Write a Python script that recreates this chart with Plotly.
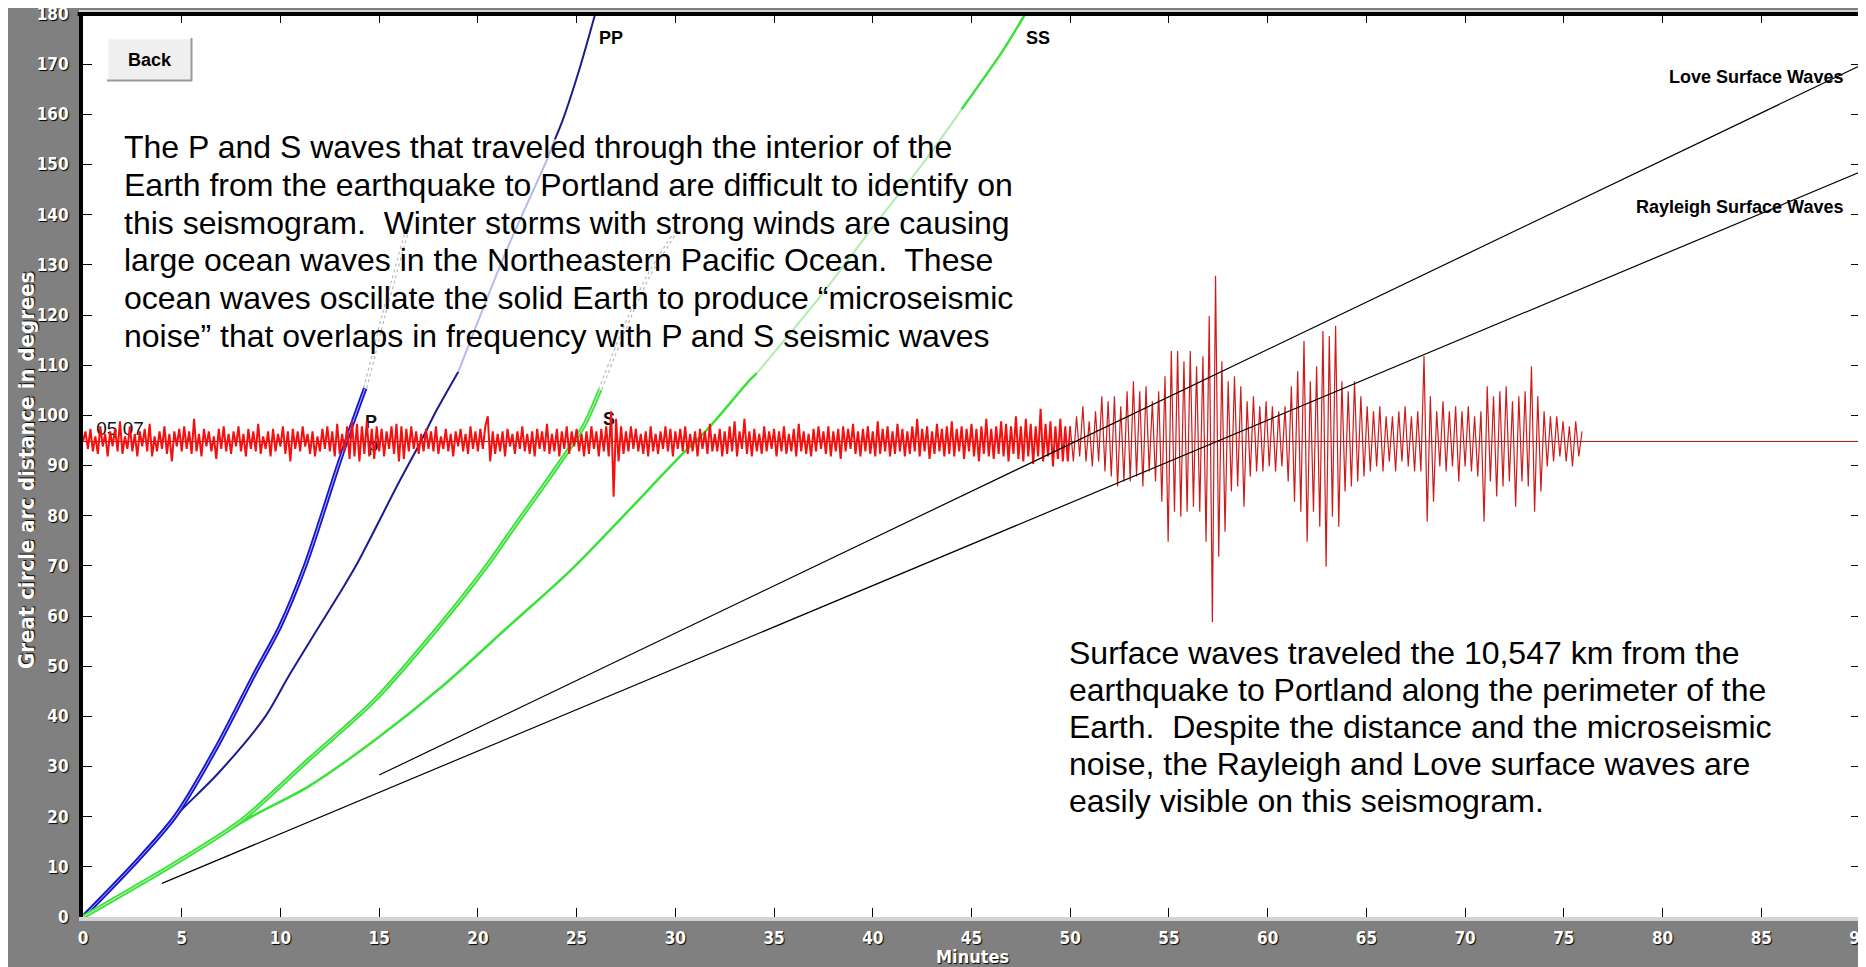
import plotly.graph_objects as go

# ------------------------------------------------------------------ data
X_TICKS = list(range(0, 91, 5))
Y_TICKS = list(range(0, 181, 10))

# P (double blue line) and its dotted continuation
P_MIN = [0, 2.55, 4.66, 6.69, 8.71, 9.98, 11.25, 12.85, 13.53, 14.29]
P_DEG = [0, 10.4, 20.0, 33.3, 48.6, 57.9, 70.0, 89.1, 97.1, 105.4]
P_EXT_MIN = [14.29, 14.75, 15.21, 15.72, 16.23, 16.57]
P_EXT_DEG = [105.4, 112.5, 119.7, 127.0, 134.3, 139.0]

# PP (single navy line): solid, faint, solid again near the top
PP_MIN = [0, 2.55, 4.66, 6.86, 9.22, 10.40, 11.75, 13.10, 13.85, 16.06, 17.07, 17.92, 19.01]
PP_DEG = [0, 10.4, 20.0, 28.7, 39.9, 47.9, 56.6, 65.2, 70.2, 87.1, 94.5, 101.1, 108.7]
PP_FAINT_MIN = [19.01, 21.46, 23.49, 23.9]
PP_FAINT_DEG = [108.7, 133.0, 150.9, 155.0]
PP_TOP_MIN = [23.9, 24.3, 25.18, 25.94]
PP_TOP_DEG = [155.0, 158.9, 169.5, 180.0]

# S (double green line) and its dotted continuation
S_MIN = [0, 4.66, 8.04, 11.41, 14.79, 18.17, 20.45, 21.97, 23.66, 25.35, 26.19]
S_DEG = [0, 10.7, 19.3, 31.3, 43.3, 58.6, 70.0, 78.5, 87.8, 97.8, 105.1]
S_EXT_MIN = [26.19, 27.4, 28.6, 30.0]
S_EXT_DEG = [105.1, 117.0, 127.5, 136.5]

# SS (single green line): solid, faint, solid again near the top
SS_MIN = [0, 4.66, 8.54, 11.41, 14.79, 18.17, 21.55, 24.80, 30.41, 31.60, 33.79, 34.13]
SS_DEG = [0, 10.7, 20.0, 26.0, 35.3, 45.9, 57.9, 69.5, 92.5, 97.1, 107.1, 108.4]
SS_FAINT_MIN = [34.13, 37.2, 40.0, 42.5, 44.5]
SS_FAINT_DEG = [108.4, 123.0, 137.5, 150.0, 161.0]
SS_TOP_MIN = [44.5, 46.62, 47.72]
SS_TOP_DEG = [161.0, 172.9, 180.0]

# surface wave arrival lines
LOVE_MIN = [15.0, 90.0]
LOVE_DEG = [28.3, 169.7]
RAYLEIGH_MIN = [4.0, 90.0]
RAYLEIGH_DEG = [6.7, 148.5]

# seismogram (trace centred on the station distance)
SEIS_BASE_DEG = 94.8
SEIS_END_MIN = 90.0
NOISE_DT = 0.125          # minutes between samples, 0 .. 49.875
NOISE_AMP = [
    0, 2, -1.5, 2.5, -2, 1, -2.5, 3, -1, 1.5, -3, 2, -1, 2.5, -2, 4, -2.5, 1, -1.5, 3,
    -2, 1.5, -3, 2, -1, 2.5, -2, 3.5, -3, 1, -2, 2, -1.5, 3, -2.5, 1.5, -4, 2, -1, 2.5,
    -2, 3, -1.5, 2, -2.5, 4.5, -2, 1.5, -3, 2.5, -1, 2, -2, 1, -3.5, 2.5, -1.5, 3, -2, 1.5,
    -2.5, 2, -1, 3, -2, 1.5, -3, 2.5, -1.5, 2, -2, 3.5, -2.5, 1, -1.5, 2, -3, 2.5, -2, 1.5,
    -1, 3, -2.5, 2, -4, 2.5, -1.5, 2, -2, 3, -1, 1.5, -2.5, 2, -3, 1, -2, 2.5, -1.5, 3,
    -2, 2, -3, 3.5, -2.5, 1.5, -2, 3, -3.5, 4, -3, 3.5, -4, 3, -2.5, 4, -3, 2.5, -3.5, 3,
    -2, 2.5, -3, 2, -1.5, 3, -2.5, 3.5, -4, 3, -3.5, 2.5, -2, 3, -1.5, 2, -2.5, 1.5, -2, 2.5,
    -1.5, 2, -2, 3, -2.5, 1, -1.5, 2.5, -2, 1.5, -3, 2, -1, 2.5, -2, 1.5, -2.5, 3, -1.5, 2,
    -2, 2.5, -1.5, 3, 5, -4, 2, -2.5, 1.5, -2, 2, -3, 2.5, -1, 1.5, -2.5, 2, -1.5, 3, -2,
    1.5, -2.5, 2, -3, 2.5, -1.5, 2, -2, 3.5, -2.5, 1.5, -2, 2.5, -3, 2, -1.5, 3, -2.5, 2, -1,
    2.5, -2, 1.5, -3, 2, -2.5, 3, -1.5, 2, -3, 2.5, -2, 3, -3, 6, -11, 4.5, -4, 3, -2.5,
    2, -2, 3, -1.5, 2.5, -2, 1.5, -2.5, 2, -3, 3, -2, 1.5, -2.5, 2, -1.5, 3, -2, 2.5, -3,
    2, -1.5, 2.5, -2, 3, -2.5, 1.5, -2, 2, -3, 2.5, -1.5, 2, -2.5, 3.5, -2, 1.5, -2, 2.5, -3,
    2, -2.5, 3, -2, 4, -3, 2, -1.5, 4.5, -2.5, 2, -3, 2.5, -2, 1.5, -2.5, 3, -2, 2, -1.5,
    2.5, -3, 2, -2, 3, -2.5, 1.5, -2, 2.5, -3, 3.5, -2, 2, -2.5, 1.5, -3, 2.5, -2, 3, -1.5,
    2, -2.5, 3, -3, 2, -2, 2.5, -3.5, 3, -2, 2.5, -1.5, 3.5, -2.5, 2, -3, 2.5, -2, 3, -2.5,
    2, -3, 4, -2.5, 2.5, -2, 3, -3, 2, -2.5, 3.5, -2, 2.5, -3, 2, -2.5, 3, -2, 4.5, -3,
    2.5, -2, 3, -3.5, 2, -2.5, 3.5, -2, 2.5, -3, 3, -2.5, 4, -3, 2.5, -2, 3, -3.5, 2.5, -2,
    3.5, -3, 2.5, -4, 3, -2.5, 4.5, -3, 2.5, -3.5, 3, -2.5, 4, -3, 3.5, -4, 3, -2.5, 5, -3.5,
    3, -4, 4.5, -3, 3.5, -4.5, 3, -3, 6.5, -4, 3.5, -3, 4, -5, 3, -3.5, 4.5, -4, 3, -4,
]
SURF_START_MIN = 50.0
SURF_DT = 0.16            # minutes between samples, 50.0 .. 75.92
SURF_AMP = [
    3, -4, 5, -3, 7, -4, 4, -5, 6, -4, 9, -6,
    8, -7, 9, -9, 7, -8, 10,
    -8, 12, -7, 10, -9, 11, -6, 8, -8, 10,
    -12, 13, -20, 18, -14, 18, -15, 16, -14, 18, -13, 15, -14, 17, -20, 25, -36, 33, -23, 16, -18, 12,
    -10, 13, -9, 11, -13, 8, -7, 9, -6, 7,
    -6, 8, -5, 7, -6, 6, -5, 7, -8, 11, -12, 14,
    -14, 20, -20, 12, -14, 15, -17, 22, -25, 21, -15, 23, -17, 12,
    -10, 10, -9, 12, -8, 9, -7, 7, -6, 6, -5, 7, -6, 5,
    -4, 5, -6, 6, -4, 7, -5, 5, -6, 6,
    -6, 17, -16, 9,
    -12, 6, -5, 8, -6, 6, -5, 7, -8, 6, -5, 7, -6, 5, -7, 6,
    -16, 11, -8, 9, -11, 10, -9, 11, -8, 8, -13, 9, -8, 10, -9, 15, -14,
    9, -10, 6, -5, 5, -4, 5, -3,
    4, -4, 3, -5, 4, -3, 2,
]

TEXT_TOP = [
    "The P and S waves that traveled through the interior of the",
    "Earth from the earthquake to Portland are difficult to identify on",
    "this seismogram.\u00a0 Winter storms with strong winds are causing",
    "large ocean waves in the Northeastern Pacific Ocean.\u00a0 These",
    "ocean waves oscillate the solid Earth to produce \u201cmicroseismic",
    "noise\u201d that overlaps in frequency with P and S seismic waves",
]
TEXT_BOTTOM = [
    "Surface waves traveled the 10,547 km from the",
    "earthquake to Portland along the perimeter of the",
    "Earth.\u00a0 Despite the distance and the microseismic",
    "noise, the Rayleigh and Love surface waves are",
    "easily visible on this seismogram.",
]

# ------------------------------------------------------------------ geometry helpers (screen px -> axis units)
W, H = 1866, 967
ML, MR, MT, MB = 75, 14, 6, 58
OFF = 8  # page body margin
PLOT_W = W - ML - MR
PLOT_H = H - MT - MB
X0 = OFF + ML
Y0 = OFF + MT + PLOT_H


def mx(px):
    return (px - X0) / PLOT_W * 90.0


def dy(py):
    return (Y0 - py) / PLOT_H * 180.0


def paper_x(px):
    return (px - X0) / PLOT_W


def paper_y(py):
    return (Y0 - py) / PLOT_H


BLUE = "rgb(22,22,210)"
NAVY = "rgb(28,28,140)"
GREEN = "rgb(60,225,60)"
FAINT_BLUE = "rgb(185,185,232)"
FAINT_GREEN = "rgb(175,236,175)"
DOT_GREY = "rgb(185,185,185)"

fig = go.Figure()


def line(x, y, color, width, dash=None, shift=0.0, smooth=True):
    fig.add_trace(go.Scatter(
        x=[v + shift for v in x], y=y, mode="lines",
        line=dict(color=color, width=width, dash=dash,
                  shape="spline" if smooth and len(x) > 2 else "linear",
                  smoothing=0.8),
        hoverinfo="skip", showlegend=False))


# travel-time curves
line(P_EXT_MIN, P_EXT_DEG, DOT_GREY, 1.2, "dot", -0.08)
line(P_EXT_MIN, P_EXT_DEG, DOT_GREY, 1.2, "dot", 0.08)
line(S_EXT_MIN, S_EXT_DEG, DOT_GREY, 1.2, "dot", -0.08)
line(S_EXT_MIN, S_EXT_DEG, DOT_GREY, 1.2, "dot", 0.08)

line(PP_MIN, PP_DEG, NAVY, 2)
line(PP_FAINT_MIN, PP_FAINT_DEG, FAINT_BLUE, 2)
line(PP_TOP_MIN, PP_TOP_DEG, NAVY, 2)
line(P_MIN, P_DEG, BLUE, 4.5)
line(P_MIN, P_DEG, "rgba(235,235,255,0.75)", 1)

line(SS_MIN, SS_DEG, GREEN, 2.5)
line(SS_FAINT_MIN, SS_FAINT_DEG, FAINT_GREEN, 2)
line(SS_TOP_MIN, SS_TOP_DEG, GREEN, 2.5)
line(S_MIN, S_DEG, GREEN, 4.5)
line(S_MIN, S_DEG, "rgba(225,255,225,0.8)", 1)

# seismogram baseline and labels beneath the trace
line([0, SEIS_END_MIN], [SEIS_BASE_DEG, SEIS_BASE_DEG], "rgb(140,20,20)", 1)
fig.add_trace(go.Scatter(
    x=[mx(120)], y=[dy(430.5)], mode="text", text=["05:07"],
    textfont=dict(family="Liberation Sans, Arial, sans-serif", size=19, color="#111"),
    hoverinfo="skip", showlegend=False))
fig.add_trace(go.Scatter(
    x=[mx(371), mx(609), mx(373)], y=[dy(423.5), dy(420), dy(446)], mode="text",
    text=["P", "S", "p"],
    textfont=dict(family="Liberation Sans, Arial, sans-serif", size=18, color="#111", weight="bold"),
    hoverinfo="skip", showlegend=False))

noise_t = [i * NOISE_DT for i in range(len(NOISE_AMP))]
noise_y = [SEIS_BASE_DEG + a for a in NOISE_AMP]
surf_t = [SURF_START_MIN + k * SURF_DT for k in range(len(SURF_AMP))]
surf_y = [SEIS_BASE_DEG + a for a in SURF_AMP]
fig.add_trace(go.Scatter(x=noise_t + [surf_t[0]], y=noise_y + [surf_y[0]], mode="lines",
                         line=dict(color="rgb(245,15,15)", width=2.0),
                         hoverinfo="skip", showlegend=False))
fig.add_trace(go.Scatter(x=surf_t, y=surf_y, mode="lines",
                         line=dict(color="rgb(205,28,28)", width=1.2),
                         hoverinfo="skip", showlegend=False))

# surface-wave lines
line(LOVE_MIN, LOVE_DEG, "black", 1.2)
line(RAYLEIGH_MIN, RAYLEIGH_DEG, "black", 1.2)

# ------------------------------------------------------------------ annotations
ann = []
TXT_FONT = dict(family="Liberation Sans, Arial, sans-serif", size=32, color="black")
top_baselines = [158.3, 196.0, 233.7, 271.4, 309.1, 346.8]
for s, b in zip(TEXT_TOP, top_baselines):
    ann.append(dict(x=mx(122), y=dy(b - 11.1), text=s, showarrow=False,
                    xanchor="left", yanchor="middle", font=TXT_FONT))
bot_baselines = [664.0, 701.0, 738.0, 775.0, 812.0]
for s, b in zip(TEXT_BOTTOM, bot_baselines):
    ann.append(dict(x=mx(1067), y=dy(b - 11.1), text=s, showarrow=False,
                    xanchor="left", yanchor="middle", font=TXT_FONT))

LBL_FONT = dict(family="Liberation Sans, Arial, sans-serif", size=18, color="black", weight="bold")
ann.append(dict(x=mx(611), y=dy(38), text="PP", showarrow=False, font=LBL_FONT))
ann.append(dict(x=mx(1037.5), y=dy(38), text="SS", showarrow=False, font=LBL_FONT))
ann.append(dict(x=mx(1845), y=dy(76.7), text="Love Surface Waves", showarrow=False,
                xanchor="right", font=LBL_FONT))
ann.append(dict(x=mx(1845), y=dy(206.7), text="Rayleigh Surface Waves", showarrow=False,
                xanchor="right", font=LBL_FONT))
ann.append(dict(x=mx(149.5), y=dy(59.5), text="Back", showarrow=False, font=LBL_FONT))

NARROW = "Liberation Sans Narrow, Arial Narrow, DejaVu Sans Condensed, sans-serif"
ann.append(dict(xref="paper", yref="paper", x=paper_x(26), y=paper_y(470),
                xanchor="center", yanchor="middle",
                text="Great circle arc distance in degrees", textangle=-90, showarrow=False,
                font=dict(family=NARROW, size=22, color="white", weight="bold",
                          shadow="1px 1px 1px #000")))
ann.append(dict(xref="paper", yref="paper", x=paper_x(972), y=paper_y(957),
                xanchor="center", yanchor="middle",
                text="Minutes", showarrow=False,
                font=dict(family=NARROW, size=18, color="white", weight="bold",
                          shadow="1px 1px 1px #000")))

# ------------------------------------------------------------------ shapes (button, frame)
shapes = [
    dict(type="rect", x0=mx(107), x1=mx(192), y0=dy(81), y1=dy(38),
         fillcolor="#efefef", line=dict(width=0), layer="above"),
    dict(type="line", x0=mx(107), x1=mx(192), y0=dy(38.5), y1=dy(38.5), line=dict(color="white", width=1.5)),
    dict(type="line", x0=mx(107.5), x1=mx(107.5), y0=dy(38), y1=dy(81), line=dict(color="white", width=1.5)),
    dict(type="line", x0=mx(107), x1=mx(192), y0=dy(80.5), y1=dy(80.5), line=dict(color="#9a9a9a", width=2)),
    dict(type="line", x0=mx(191.5), x1=mx(191.5), y0=dy(38), y1=dy(81), line=dict(color="#9a9a9a", width=2)),
    dict(type="line", xref="paper", yref="paper", x0=-0.003, x1=1.002, y0=1.0, y1=1.0,
         line=dict(color="black", width=4)),
    dict(type="line", xref="paper", yref="paper", x0=1.0, x1=1.0, y0=-0.002, y1=1.0,
         line=dict(color="#c8c8c8", width=3)),
]

TICK_FONT = dict(family=NARROW, size=17, color="white", weight="bold", shadow="1px 1px 1px #000")

fig.update_layout(
    width=W, height=H,
    margin=dict(l=ML, r=MR, t=MT, b=MB, pad=0, autoexpand=False),
    paper_bgcolor="#808080", plot_bgcolor="white",
    showlegend=False,
    annotations=ann, shapes=shapes,
    xaxis=dict(range=[0, 90], tickvals=X_TICKS, ticktext=[str(v) for v in X_TICKS],
               ticks="inside", ticklen=9, tickcolor="black", tickwidth=1,
               showline=True, linecolor="#d2d2d2", linewidth=4, mirror="ticks",
               showgrid=False, zeroline=False, tickfont=TICK_FONT, ticklabelstandoff=3,
               ticklabeloverflow="allow", automargin=False, fixedrange=True),
    yaxis=dict(range=[0, 180], tickvals=Y_TICKS, ticktext=[str(v) for v in Y_TICKS],
               ticks="inside", ticklen=9, tickcolor="black", tickwidth=1,
               showline=True, linecolor="black", linewidth=4, mirror="ticks",
               showgrid=False, zeroline=False, tickfont=TICK_FONT, ticklabelstandoff=7,
               ticklabeloverflow="allow", automargin=False, fixedrange=True),
)

fig.write_html("out.html")
